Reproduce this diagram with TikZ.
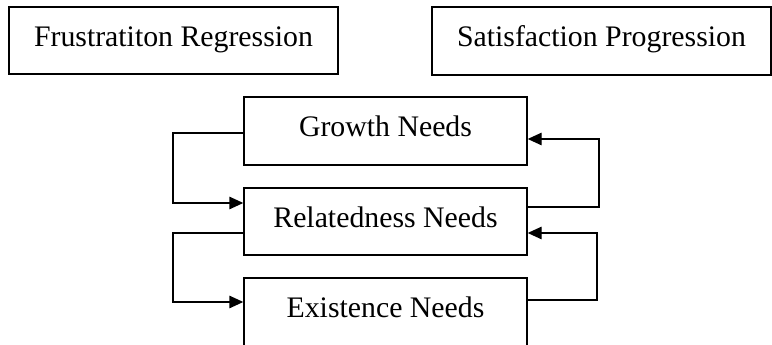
\documentclass[tikz,border=0pt]{standalone}
\usepackage{fontspec}
\setmainfont{Liberation Serif}
\usetikzlibrary{arrows.meta}
\begin{document}
\begin{tikzpicture}[x=1pt,y=1pt,
  box/.style={draw,line width=1.4pt,rectangle,inner sep=0pt,
    font=\fontsize{29.8}{34}\selectfont,text height=20pt,text depth=8pt},
  conn/.style={line width=1.4pt,-{Triangle[length=14pt,width=12.5pt]}}]
\useasboundingbox (0,0) rectangle (772,345);
\clip (0,0) rectangle (772,345);
\node[box,minimum width=329pt,minimum height=67pt] (F) at (173.5,304.5) {Frustratiton Regression};
\node[box,minimum width=339pt,minimum height=68pt] (S) at (601.5,304) {Satisfaction Progression};
\node[box,minimum width=283pt,minimum height=68pt] (G) at (385.5,214) {Growth Needs};
\node[box,minimum width=283pt,minimum height=67pt] (R) at (385.5,123.5) {Relatedness Needs};
\node[box,minimum width=283pt,minimum height=68pt] (E) at (385.5,33) {Existence Needs};
\draw[conn] ([yshift=-2pt]G.west) -| (173,142) -- ([yshift=18.5pt]R.west);
\draw[conn] ([yshift=-11.5pt]R.west) -| (173,43) -- ([yshift=10pt]E.west);
\draw[conn] ([yshift=14.5pt]R.east) -| (599,206) -- ([yshift=-8pt]G.east);
\draw[conn] ([yshift=12pt]E.east) -| (597,112) -- ([yshift=-11.5pt]R.east);
\end{tikzpicture}
\end{document}
